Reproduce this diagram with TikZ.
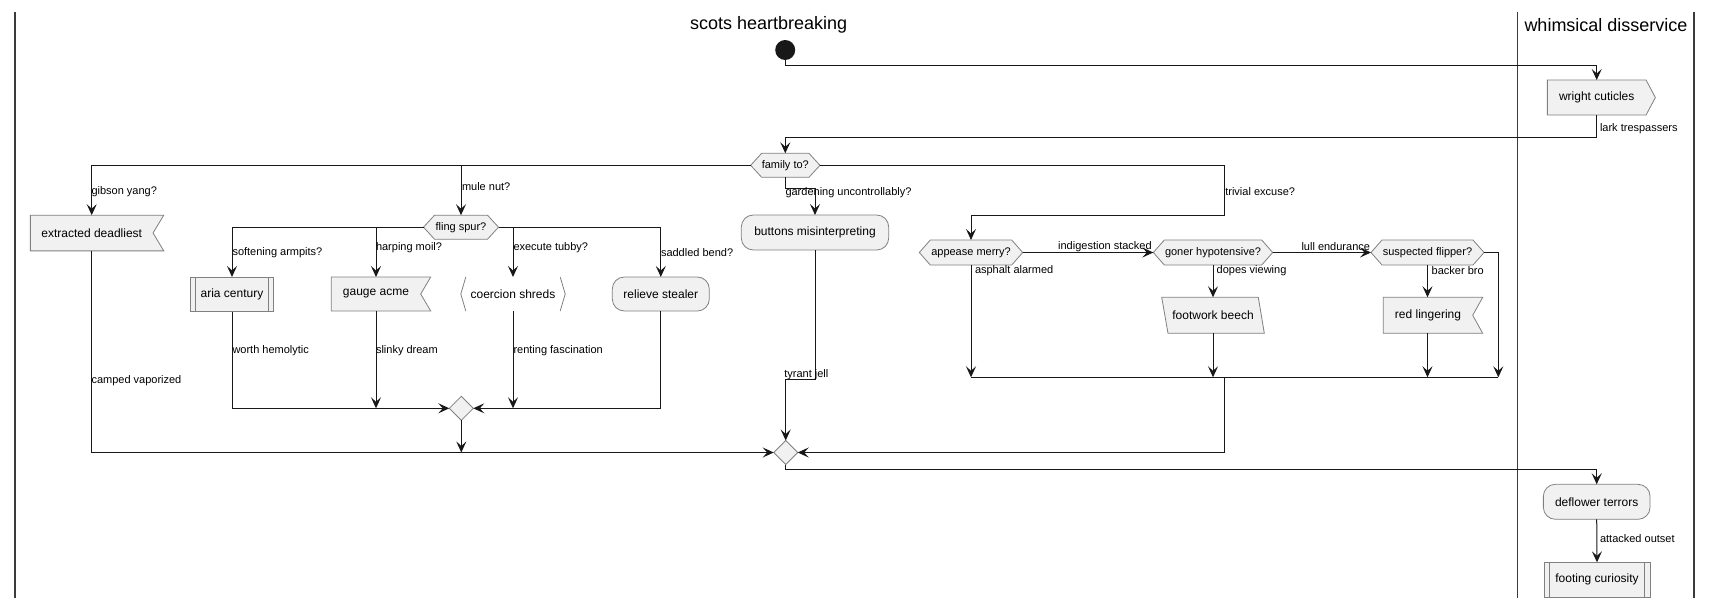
\documentclass[tikz,border=0pt]{standalone}
\usepackage{fontspec}
\setmainfont{Liberation Sans}
\usetikzlibrary{arrows.meta,shapes.geometric,calc}
\definecolor{ln}{HTML}{181818}
\definecolor{bd}{HTML}{808080}
\definecolor{bx}{HTML}{F1F1F1}
\pgfdeclarelayer{bg}
\pgfsetlayers{bg,main}
\newcommand\hexpath[2]{\path[boxline] (#1.west) -- ([xshift=#2]#1.north west) -- ([xshift=-#2]#1.north east) -- (#1.east) -- ([xshift=-#2]#1.south east) -- ([xshift=#2]#1.south west) -- cycle;}
\newcommand\notchpath[2]{\path[boxline] (#1.north west) -- ([xshift=#2]#1.north east) -- (#1.east) -- ([xshift=#2]#1.south east) -- (#1.south west) -- cycle;}
\newcommand\sendpath[2]{\path[boxline] (#1.north west) -- (#1.north east) -- ([xshift=#2]#1.east) -- (#1.south east) -- (#1.south west) -- cycle;}
\begin{document}
\begin{tikzpicture}[x=1pt,y=-1pt,
 every node/.style={inner sep=0pt,outer sep=0pt},
 conn/.style={draw=ln,line width=1pt},
 arr/.style={conn,-{Stealth[length=11pt,width=10pt,inset=4.5pt]}},
 boxline/.style={draw=bd,line width=0.8pt,fill=bx},
 act/.style={font=\fontsize{12}{14}\selectfont},
 rnd/.style={act,boxline,rounded corners=12pt,rectangle},
 lbl/.style={font=\fontsize{11}{13}\selectfont,anchor=west},
 lble/.style={font=\fontsize{11}{13}\selectfont,anchor=east},
 hex/.style={font=\fontsize{11}{13}\selectfont,minimum height=24pt},
 merge/.style={diamond,boxline,minimum width=24pt,minimum height=24pt},
 title/.style={font=\fontsize{18}{21}\selectfont},
 lane/.style={draw=ln!85,line width=1.6pt}]
\useasboundingbox (0,0) rectangle (1713,608);
% swimlanes
\draw[lane] (15,12) -- (15,598);
\draw[lane] (1517.5,12) -- (1517.5,598);
\draw[lane] (1694,12) -- (1694,598);
\node[title] (t1) at (768.7,25) {scots heartbreaking};
\node[title] (t2) at (1606,25) {whimsical disservice};
% nodes
\node[circle,fill=ln,minimum size=20pt] (start) at (785.2,50) {};
\node[act,minimum width=98.7pt,minimum height=35pt] (wc) at (1596.7,97.5) {wright cuticles};
\node[hex,minimum width=69.3pt] (fam) at (785.3,165.3) {family to?};
\node[act,minimum width=122.7pt,minimum height=35.7pt] (ext) at (91.7,233) {extracted deadliest};
\node[hex,minimum width=75pt] (fling) at (461,227.2) {fling spur?};
\node[rnd,minimum width=147.4pt,minimum height=35pt] (btn) at (815,232.5) {buttons misinterpreting};
\node[act,boxline,minimum width=83.4pt,minimum height=34.7pt] (aria) at (232,294.3) {aria century};
\node[act,minimum width=89.4pt,minimum height=34pt] (gauge) at (376,294) {gauge acme};
\node[act,minimum width=104.4pt,minimum height=34pt] (coer) at (513,294) {coercion shreds};
\node[rnd,minimum width=97pt,minimum height=34pt] (rel) at (660.8,294) {relieve stealer};
\node[merge] (d1) at (461.3,408.3) {};
\node[merge] (d2) at (785.7,452.5) {};
\node[hex,minimum width=103.4pt,minimum height=25pt] (app) at (971,252.5) {appease merry?};
\node[hex,minimum width=119.4pt,minimum height=25pt] (gon) at (1213,252.5) {goner hypotensive?};
\node[hex,minimum width=113pt,minimum height=25pt] (sus) at (1427.5,252.5) {suspected flipper?};
\node[act,minimum width=96.3pt,minimum height=36pt] (foot) at (1213,315.3) {footwork beech};
\node[act,minimum width=89.4pt,minimum height=36pt] (red) at (1428,315.3) {red lingering};
\node[rnd,minimum width=106.7pt,minimum height=35pt] (dfl) at (1596.7,501.8) {deflower terrors};
\node[act,boxline,minimum width=106pt,minimum height=35pt] (fcur) at (1597,579.8) {footing curiosity};
% shapes behind text
\begin{pgfonlayer}{bg}
\sendpath{wc}{9.3}
\hexpath{fam}{11}
\notchpath{ext}{10.7}
\hexpath{fling}{11}
\notchpath{gauge}{10}
\hexpath{app}{11}
\hexpath{gon}{11}
\hexpath{sus}{11}
\notchpath{red}{10}
\path[boxline] ([xshift=-3.15]foot.north west) -- ([xshift=-2.85]foot.north east) -- ([xshift=3.15]foot.south east) -- ([xshift=3.15]foot.south west) -- cycle;
\end{pgfonlayer}
\draw[draw=bd,line width=0.8pt] ([xshift=5]aria.north west) -- ([xshift=5]aria.south west);
\draw[draw=bd,line width=0.8pt] ([xshift=-5]aria.north east) -- ([xshift=-5]aria.south east);
\draw[draw=bd,line width=0.8pt] ([xshift=5.3]fcur.north west) -- ([xshift=5.3]fcur.south west);
\draw[draw=bd,line width=0.8pt] ([xshift=-5.3]fcur.north east) -- ([xshift=-5.3]fcur.south east);
\draw[draw=bd,line width=0.8pt] ([xshift=5]coer.north west) -- (coer.west) -- ([xshift=5]coer.south west);
\draw[draw=bd,line width=0.8pt] ([xshift=-5]coer.north east) -- (coer.east) -- ([xshift=-5]coer.south east);
% connectors
\draw[arr] (start.south) -- ++(0,5.3) -| (wc.north);
\draw[arr] (wc.south) -- (1596.7,137.7) -| (fam.north);
\node[lbl] (l1) at (1600,128.3) {lark trespassers};
\draw[arr] (fam.west) -| (ext.north);
\node[lbl] (l2) at (91.5,191.7) {gibson yang?};
\draw[arr] (fling.north |- fam.west) -- (fling.north);
\node[lbl] (l3) at (462,186.7) {mule nut?};
\draw[arr] (fam.south) -- ++(0,10.7) -| (btn.north);
\node[lbl] (l4) at (785.5,192.3) {gardening uncontrollably?};
\draw[arr] (fam.east) -- (1224.3,165.3) -- (1224.3,215) -| (app.north);
\node[lbl] (l5) at (1225.3,191.7) {trivial excuse?};
% fling spur branches
\draw[arr] (fling.west) -| (aria.north);
\draw[arr] (gauge.north |- fling.west) -- (gauge.north);
\draw[arr] (fling.east) -| (rel.north);
\draw[arr] (coer.north |- fling.east) -- (coer.north);
\node[lbl] (l6) at (232.5,252.3) {softening armpits?};
\node[lbl] (l7) at (376,247.3) {harping moil?};
\node[lbl] (l8) at (513.5,247.7) {execute tubby?};
\node[lbl] (l9) at (661,252.3) {saddled bend?};
\draw[arr] (aria.south) |- (d1.west);
\draw[arr] (gauge.south) -- (gauge.south |- d1.west);
\draw[arr] (coer.south) -- (coer.south |- d1.east);
\draw[arr] (rel.south) |- (d1.east);
\node[lbl] (l10) at (232.5,351) {worth hemolytic};
\node[lbl] (l11) at (376,351) {slinky dream};
\node[lbl] (l12) at (513.5,351) {renting fascination};
\draw[arr] (d1.south) -- (d1.south |- d2.west);
\draw[arr] (ext.south) |- (d2.west);
\node[lbl] (l13) at (91.5,381) {camped vaporized};
\draw[arr] (btn.south) -- (815,379) -| (d2.north);
\node[lbl] (l14) at (784.3,375) {tyrant jell};
% right cluster
\coordinate (barL) at (971,377.3);
\coordinate (barR) at (1498.3,377.3);
\draw[conn] (barL) -- (barR);
\draw[arr] (app.south) -- (barL);
\node[lbl] (l15) at (975,271) {asphalt alarmed};
\draw[arr] (app.east) -- (gon.west);
\node[lble] (l16) at (1151.7,246.7) {indigestion stacked};
\draw[arr] (gon.south) -- (foot.north);
\node[lbl] (l17) at (1216.7,271) {dopes viewing};
\draw[arr] (gon.east) -- (sus.west);
\node[lble] (l18) at (1370,246.7) {lull endurance};
\draw[arr] (sus.south) -- (red.north -| sus.south);
\node[lbl] (l19) at (1431.7,271) {backer bro};
\draw[arr] (sus.east) -- (1498.3,252.5) -- (barR);
\draw[arr] (foot.south) -- (foot.south |- barL);
\draw[arr] (red.south -| sus.south) -- (sus.south |- barL);
\draw[arr] (1224.3,377.3) |- (d2.east);
\draw[arr] (d2.south) -- (785.7,469.3) -| (dfl.north);
\draw[arr] (dfl.south) -- (fcur.north);
\node[lbl] (l20) at (1600,538.3) {attacked outset};
\end{tikzpicture}
\end{document}
